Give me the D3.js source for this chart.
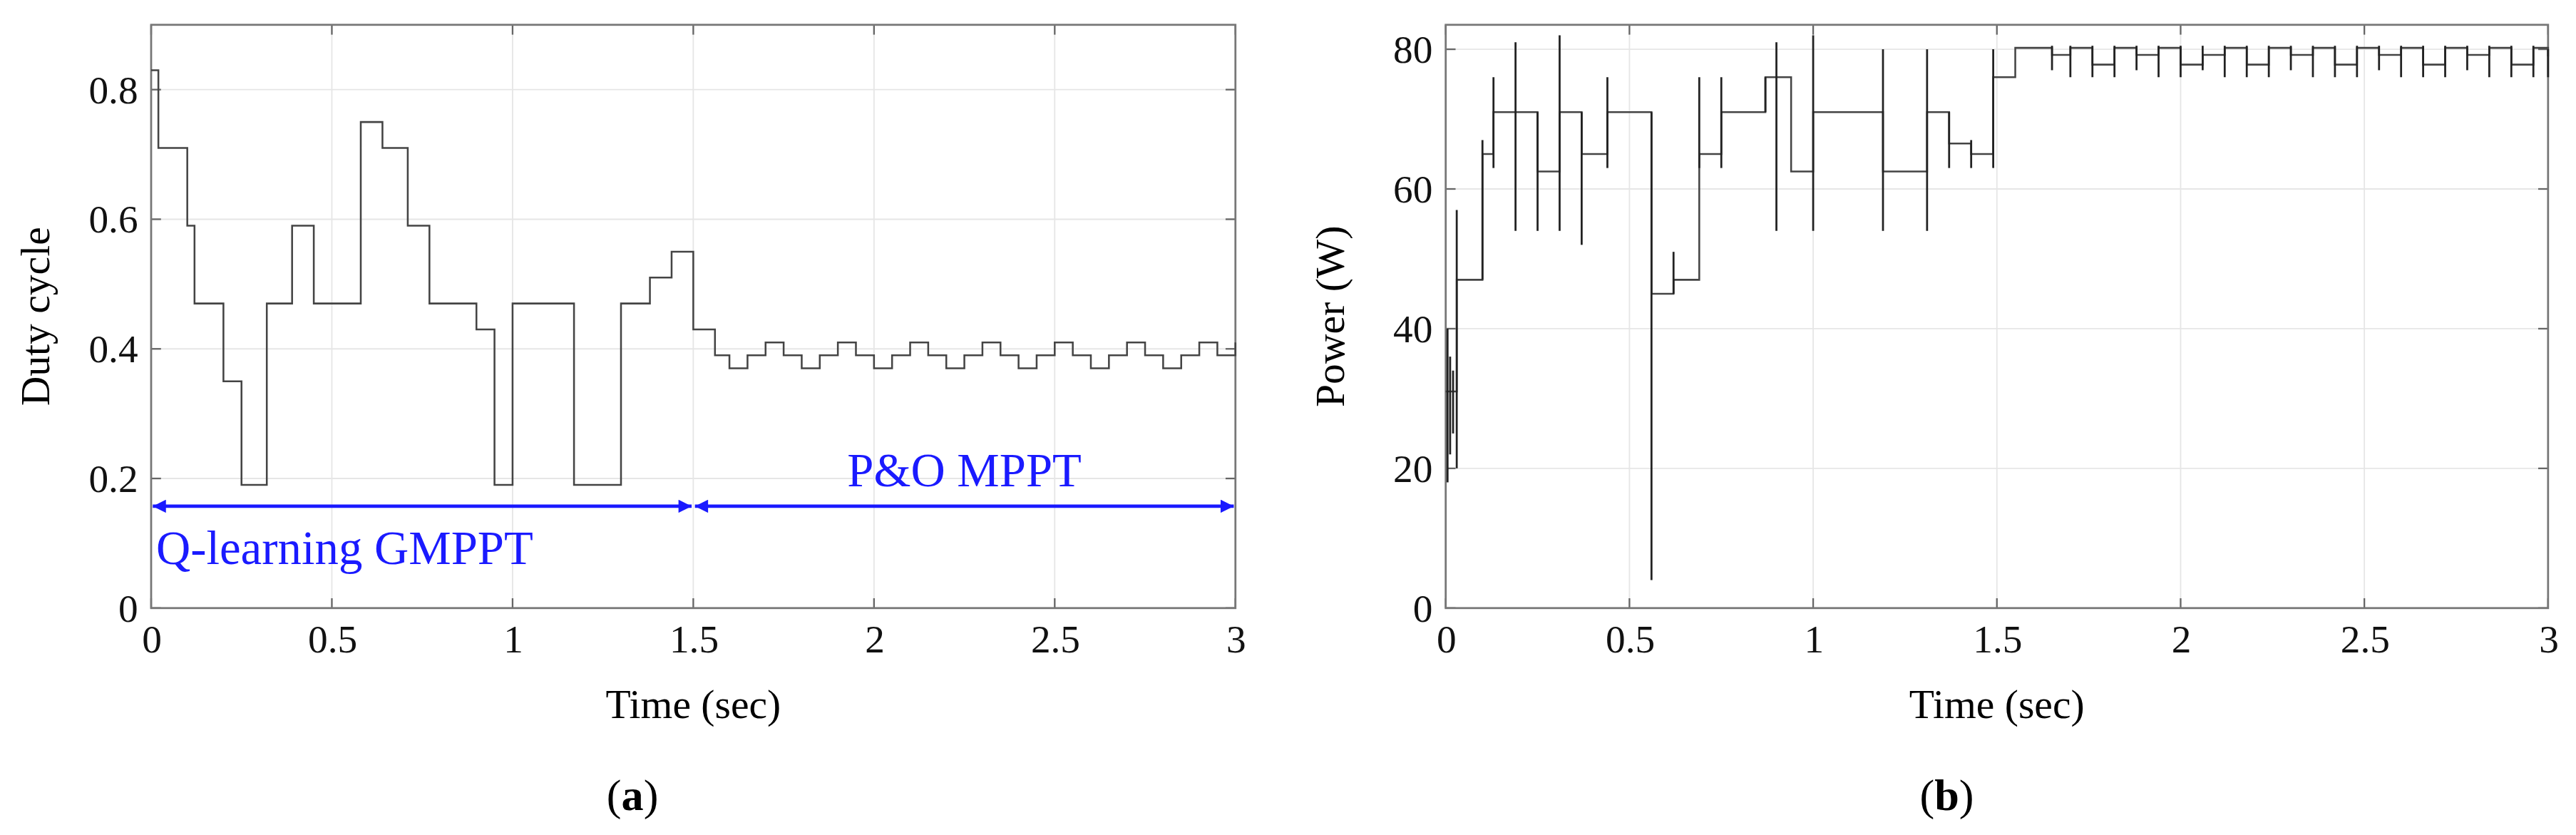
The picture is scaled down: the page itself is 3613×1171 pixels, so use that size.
<!DOCTYPE html>
<html><head><meta charset="utf-8">
<script src="https://cdn.jsdelivr.net/npm/d3@7"></script>
<style>body{margin:0;background:#fff}svg{display:block}text{font-family:"Liberation Serif","DejaVu Serif",serif}</style>
</head><body>
<script>
// Duty cycle steps: [start time, value]
const dutySteps = [[0,0.83],[0.02,0.71],[0.1,0.59],[0.12,0.47],[0.2,0.35],[0.25,0.19],[0.32,0.47],[0.39,0.59],[0.45,0.47],[0.58,0.75],[0.64,0.71],[0.71,0.59],[0.77,0.47],[0.9,0.43],[0.95,0.19],[1.0,0.47],[1.17,0.19],[1.3,0.47],[1.38,0.51],[1.44,0.55],[1.5,0.43],[1.56,0.39],
[1.6,0.37],[1.65,0.39],[1.7,0.41],[1.75,0.39],[1.8,0.37],[1.85,0.39],[1.9,0.41],[1.95,0.39],[2.0,0.37],[2.05,0.39],[2.1,0.41],[2.15,0.39],[2.2,0.37],[2.25,0.39],[2.3,0.41],[2.35,0.39],[2.4,0.37],[2.45,0.39],[2.5,0.41],[2.55,0.39],[2.6,0.37],[2.65,0.39],[2.7,0.41],[2.75,0.39],[2.8,0.37],[2.85,0.39],[2.9,0.41],[2.95,0.39],[3.0,0.41]];
// Power steps: [start time, value]
const powerSteps = [[0,31],[0.03,47],[0.1,65],[0.13,71],[0.25,62.5],[0.31,71],[0.37,65],[0.44,71],[0.56,45],[0.62,47],[0.69,65],[0.75,71],[0.87,76],[0.94,62.5],[1.0,71],[1.19,62.5],[1.31,71],[1.37,66.5],[1.43,65],[1.49,76],[1.55,80.2],
[1.65,79.2],[1.7,80.2],[1.76,77.8],[1.82,80.2],[1.88,79.2],[1.94,80.2],[2.0,77.8],[2.06,79.2],[2.12,80.2],[2.18,77.8],[2.24,80.2],[2.3,79.2],[2.36,80.2],[2.42,77.8],[2.48,80.2],[2.54,79.2],[2.6,80.2],[2.66,77.8],[2.72,80.2],[2.78,79.2],[2.84,80.2],[2.9,77.8],[2.96,80.2],[3.0,79]];
// Transient spikes: [time, low, high]
const powerSpikes = [[0.005,18,40],[0.012,22,36],[0.02,25,34],[0.03,20,57],[0.1,47,67],[0.13,63,76],[0.19,54,81],[0.25,54,71],[0.31,54,82],[0.37,52,71],[0.44,63,76],[0.56,4,71],[0.62,45,51],[0.69,63,76],[0.75,63,76],[0.87,71,76],[0.9,54,81],[1.0,54,82],[1.19,54,80],[1.31,54,80],[1.37,63,71],[1.43,63,67],[1.49,63,80],
[1.65,77,80.5],[1.7,76,80.5],[1.76,76,80.5],[1.82,76,80.5],[1.88,77,80.5],[1.94,76,80.5],[2.0,76,80.5],[2.06,77,80.5],[2.12,76,80.5],[2.18,76,80.5],[2.24,76,80.5],[2.3,77,80.5],[2.36,76,80.5],[2.42,76,80.5],[2.48,76,80.5],[2.54,77,80.5],[2.6,76,80.5],[2.66,76,80.5],[2.72,76,80.5],[2.78,77,80.5],[2.84,76,80.5],[2.9,76,80.5],[2.96,76,80.5],[3.0,76,80]];
const xTicks = [0,0.5,1,1.5,2,2.5,3];
const dutyTicks = [0,0.2,0.4,0.6,0.8];
const powerTicks = [0,20,40,60,80];

const svg = d3.select("body").append("svg").attr("width",3613).attr("height",1171).attr("viewBox","0 0 1568 508");
const fmt = d => d===0?"0":String(d);

function panel(x0,x1,ydom,yticks,ylabel,steps,lab,labx){
  const top=15,bot=370;
  const x=d3.scaleLinear().domain([0,3]).range([x0,x1]);
  const y=d3.scaleLinear().domain(ydom).range([bot,top]);
  const g=svg.append("g");
  g.selectAll(".gx").data(xTicks).join("line").attr("x1",d=>x(d)).attr("x2",d=>x(d)).attr("y1",top).attr("y2",bot).attr("stroke","#e6e6e6").attr("stroke-width",0.8);
  g.selectAll(".gy").data(yticks).join("line").attr("y1",d=>y(d)).attr("y2",d=>y(d)).attr("x1",x0).attr("x2",x1).attr("stroke","#e6e6e6").attr("stroke-width",0.8);
  const ax=g.append("g").attr("transform",`translate(0,${bot})`).call(d3.axisBottom(x).tickValues(xTicks).tickFormat(fmt).tickSize(0).tickPadding(10));
  const ay=g.append("g").attr("transform",`translate(${x0},0)`).call(d3.axisLeft(y).tickValues(yticks).tickFormat(fmt).tickSize(0).tickPadding(8));
  [ax,ay].forEach(a=>{a.select(".domain").remove();a.selectAll("text").attr("font-size",24).attr("fill","#111").attr("font-family","Liberation Serif")});
  yticks.forEach(t=>{g.append("line").attr("x1",x0).attr("x2",x0+6).attr("y1",y(t)).attr("y2",y(t)).attr("stroke","#666");g.append("line").attr("x1",x1-6).attr("x2",x1).attr("y1",y(t)).attr("y2",y(t)).attr("stroke","#666");});
  xTicks.forEach(t=>{g.append("line").attr("x1",x(t)).attr("x2",x(t)).attr("y1",bot).attr("y2",bot-6).attr("stroke","#666");g.append("line").attr("x1",x(t)).attr("x2",x(t)).attr("y1",top).attr("y2",top+6).attr("stroke","#666");});
  g.append("rect").attr("x",x0).attr("y",top).attr("width",x1-x0).attr("height",bot-top).attr("fill","none").attr("stroke","#777").attr("stroke-width",1.2);
  const line=d3.line().x(d=>x(d[0])).y(d=>y(d[1])).curve(d3.curveStepAfter);
  g.append("path").datum(steps).attr("d",line).attr("fill","none").attr("stroke","#444").attr("stroke-width",1.1);
  g.append("text").attr("x",(x0+x1)/2).attr("y",437).attr("text-anchor","middle").attr("font-size",25).text("Time (sec)");
  g.append("text").attr("transform",`translate(${x0-62},${(top+bot)/2}) rotate(-90)`).attr("text-anchor","middle").attr("font-size",25).text(ylabel);
  const t=g.append("text").attr("x",labx).attr("y",493).attr("text-anchor","middle").attr("font-size",27);
  t.append("tspan").text("(");t.append("tspan").attr("font-weight","bold").text(lab);t.append("tspan").text(")");
  return {g,x,y};
}

const A=panel(92,752,[0,0.9],dutyTicks,"Duty cycle",dutySteps,"a",385);
const B=panel(880,1551,[0,83.5],powerTicks,"Power (W)",powerSteps,"b",1185);
B.g.selectAll(".spk").data(powerSpikes).join("line").attr("x1",d=>B.x(d[0])).attr("x2",d=>B.x(d[0])).attr("y1",d=>B.y(d[1])).attr("y2",d=>B.y(d[2])).attr("stroke","#222").attr("stroke-width",1.2);

const blue="#1a1aff";
const defs=svg.append("defs");
defs.append("marker").attr("id","ah").attr("viewBox","0 0 10 10").attr("refX",10).attr("refY",5).attr("markerWidth",12).attr("markerHeight",8).attr("markerUnits","userSpaceOnUse").attr("orient","auto-start-reverse").append("path").attr("d","M0,0L10,5L0,10z").attr("fill",blue);
const ay=308;
[[0,1.5],[1.5,3]].forEach(([a,b])=>{
  A.g.append("line").attr("x1",A.x(a)+1).attr("x2",A.x(b)-1).attr("y1",ay).attr("y2",ay).attr("stroke",blue).attr("stroke-width",2).attr("marker-start","url(#ah)").attr("marker-end","url(#ah)");
});
A.g.append("text").attr("x",A.x(0)+3).attr("y",343).attr("font-size",29).attr("fill",blue).text("Q-learning GMPPT");
A.g.append("text").attr("x",A.x(2.25)).attr("y",296).attr("text-anchor","middle").attr("font-size",29).attr("fill",blue).text("P&O MPPT");
</script>
</body></html>
